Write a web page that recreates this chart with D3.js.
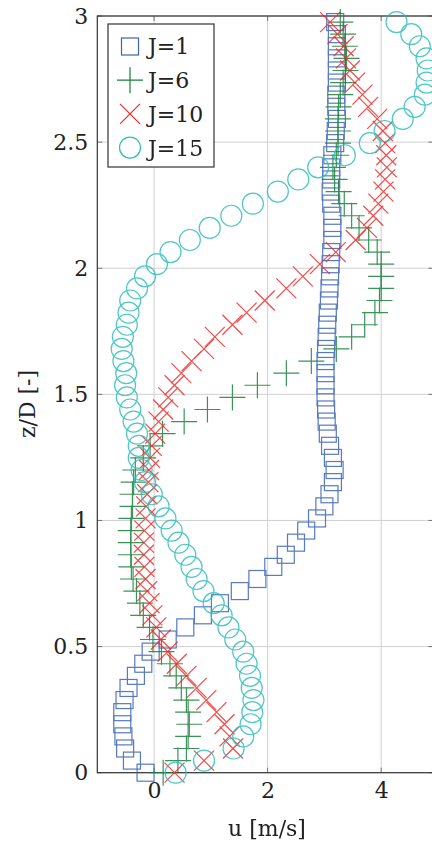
<!DOCTYPE html>
<html><head><meta charset="utf-8">
<script src="https://cdn.jsdelivr.net/npm/d3@7"></script>
<style>html,body{margin:0;padding:0;background:#fff;overflow:hidden}</style>
</head><body>
<svg id="c" width="432" height="841"></svg>
<script>
const zValues = [0,0.048,0.096,0.144,0.192,0.24,0.288,0.336,0.384,0.432,0.48,0.528,0.576,0.624,0.672,0.72,0.768,0.816,0.864,0.912,0.96,1.008,1.056,1.104,1.152,1.2,1.248,1.296,1.344,1.392,1.44,1.488,1.536,1.584,1.632,1.68,1.728,1.776,1.824,1.872,1.92,1.968,2.016,2.064,2.112,2.16,2.208,2.256,2.304,2.352,2.4,2.448,2.496,2.544,2.592,2.64,2.688,2.736,2.784,2.832,2.88,2.928,2.976];
const uJ1 = [-0.15,-0.39,-0.51,-0.54,-0.56,-0.56,-0.52,-0.45,-0.32,-0.19,-0.06,0.24,0.55,0.86,1.16,1.51,1.82,2.10,2.32,2.50,2.68,2.87,3.00,3.09,3.15,3.18,3.15,3.10,3.06,3.04,3.03,3.02,3.02,3.02,3.02,3.03,3.04,3.05,3.06,3.08,3.09,3.10,3.11,3.12,3.14,3.14,3.14,3.12,3.11,3.12,3.12,3.14,3.19,3.20,3.22,3.21,3.21,3.22,3.22,3.22,3.22,3.22,3.19];
const uJ6 = [0.16,0.42,0.57,0.60,0.62,0.60,0.57,0.48,0.39,0.28,0.13,-0.02,-0.08,-0.19,-0.25,-0.31,-0.37,-0.40,-0.41,-0.41,-0.41,-0.40,-0.38,-0.38,-0.36,-0.33,-0.19,-0.07,0.15,0.53,0.94,1.38,1.82,2.33,2.77,3.21,3.48,3.71,3.89,3.97,4.00,4.00,4.00,3.93,3.78,3.61,3.48,3.35,3.25,3.18,3.15,3.21,3.24,3.24,3.24,3.25,3.28,3.33,3.37,3.39,3.36,3.33,3.28];
const uJ10 = [0.36,0.88,1.39,1.33,1.24,1.10,0.92,0.75,0.57,0.40,0.24,0.12,0.04,-0.03,-0.08,-0.12,-0.15,-0.17,-0.18,-0.18,-0.17,-0.15,-0.14,-0.12,-0.10,-0.09,-0.07,-0.04,0.02,0.08,0.16,0.25,0.36,0.48,0.66,0.88,1.07,1.38,1.63,1.95,2.33,2.62,2.92,3.20,3.55,3.75,3.86,3.95,4.04,4.07,4.10,4.09,4.07,4.03,3.93,3.77,3.67,3.54,3.45,3.38,3.34,3.23,3.10];
const uJ15 = [0.38,0.88,1.40,1.57,1.70,1.73,1.75,1.72,1.69,1.63,1.57,1.43,1.31,1.19,1.05,0.87,0.75,0.66,0.55,0.43,0.31,0.20,0.08,-0.04,-0.16,-0.22,-0.27,-0.27,-0.30,-0.36,-0.42,-0.48,-0.51,-0.49,-0.54,-0.57,-0.55,-0.48,-0.45,-0.42,-0.30,-0.16,0.05,0.29,0.63,0.98,1.36,1.74,2.18,2.54,2.89,3.36,3.80,4.06,4.38,4.59,4.77,4.80,4.82,4.80,4.68,4.53,4.27];
const seriesNames = ["J=1","J=6","J=10","J=15"];
const xTickValues = [0,2,4];
const yTickValues = [0,0.5,1,1.5,2,2.5,3];
const xDomain = [-1, 4.92];
const yDomain = [0, 3];

const series = [
  {name: seriesNames[0], u: uJ1, marker: "square", color: "#3b63b6"},
  {name: seriesNames[1], u: uJ6, marker: "plus", color: "#17803a"},
  {name: seriesNames[2], u: uJ10, marker: "cross", color: "#f02828"},
  {name: seriesNames[3], u: uJ15, marker: "circle", color: "#2ebdbd"}
];

const svg = d3.select("#c");
const L = 97.3, T = 16, B = 772.7, R = 433.4;
const x = d3.scaleLinear().domain(xDomain).range([L, R]);
const y = d3.scaleLinear().domain(yDomain).range([B, T]);
const font = "'DejaVu Serif', serif";

// grid
const g = svg.append("g");
g.selectAll(".gx").data(xTickValues).join("line")
  .attr("x1", d => x(d)).attr("x2", d => x(d)).attr("y1", T).attr("y2", B)
  .attr("stroke", "#d0d0d0").attr("stroke-width", 1);
g.selectAll(".gy").data(yTickValues).join("line")
  .attr("x1", L).attr("x2", R).attr("y1", d => y(d)).attr("y2", d => y(d))
  .attr("stroke", "#d0d0d0").attr("stroke-width", 1);

// axes via d3
const xAxis = d3.axisBottom(x).tickValues(xTickValues).tickSize(0).tickPadding(8).tickFormat(d3.format("d"));
const yAxis = d3.axisLeft(y).tickValues(yTickValues).tickSize(0).tickPadding(9).tickFormat(d => String(d));
const gx = svg.append("g").attr("transform", `translate(0,${B})`).call(xAxis);
const gy = svg.append("g").attr("transform", `translate(${L},0)`).call(yAxis);
[gx, gy].forEach(a => {
  a.select(".domain").remove();
  a.selectAll("text").attr("font-family", font).attr("font-size", 22).attr("fill", "#222");
});
gx.selectAll("text").attr("dy", "0.8em");

// inner ticks
const tk = 5;
svg.append("g").selectAll("line").data(xTickValues).join("line")
  .attr("x1", d => x(d)).attr("x2", d => x(d)).attr("y1", B).attr("y2", B - tk)
  .attr("stroke", "#777");
svg.append("g").selectAll("line").data(xTickValues).join("line")
  .attr("x1", d => x(d)).attr("x2", d => x(d)).attr("y1", T).attr("y2", T + tk)
  .attr("stroke", "#777");
svg.append("g").selectAll("line").data(yTickValues).join("line")
  .attr("x1", L).attr("x2", L + tk).attr("y1", d => y(d)).attr("y2", d => y(d))
  .attr("stroke", "#777");
svg.append("g").selectAll("line").data(yTickValues).join("line")
  .attr("x1", R).attr("x2", R - tk).attr("y1", d => y(d)).attr("y2", d => y(d))
  .attr("stroke", "#777");

// frame
svg.append("rect").attr("x", L).attr("y", T).attr("width", R - L).attr("height", B - T)
  .attr("fill", "none").attr("stroke", "#333").attr("stroke-width", 1.2);

// markers
function drawMarker(sel, type, color) {
  if (type === "square") {
    sel.append("rect").attr("x", -8.5).attr("y", -8.5).attr("width", 17).attr("height", 17)
      .attr("fill", "none").attr("stroke", color).attr("stroke-width", 1.2);
  } else if (type === "plus") {
    sel.append("path").attr("d", "M-13,0H13M0,-13V13")
      .attr("fill", "none").attr("stroke", color).attr("stroke-width", 1.2);
  } else if (type === "cross") {
    sel.append("path").attr("d", "M-10,-10L10,10M-10,10L10,-10")
      .attr("fill", "none").attr("stroke", color).attr("stroke-width", 1.2);
  } else {
    sel.append("circle").attr("r", 10.5)
      .attr("fill", "none").attr("stroke", color).attr("stroke-width", 1.2);
  }
}

series.forEach(s => {
  const pts = s.u.map((u, i) => ({u, z: zValues[i]}));
  const grp = svg.append("g").attr("opacity", 0.85);
  grp.selectAll("g").data(pts).join("g")
    .attr("transform", d => `translate(${x(d.u)},${y(d.z)})`)
    .each(function() { drawMarker(d3.select(this), s.marker, s.color); });
});

// legend
const lg = svg.append("g");
lg.append("rect").attr("x", 108).attr("y", 24).attr("width", 106).attr("height", 143)
  .attr("fill", "#fff").attr("stroke", "#333").attr("stroke-width", 1.2);
series.forEach((s, i) => {
  const cy = 46.5 + i * 33.7;
  const m = lg.append("g").attr("transform", `translate(130,${cy})`);
  drawMarker(m, s.marker, s.color);
  lg.append("text").attr("x", 148).attr("y", cy).attr("dy", "0.36em")
    .attr("font-family", font).attr("font-size", 22).attr("fill", "#222").text(s.name);
});

// axis labels
svg.append("text").attr("x", 267).attr("y", 836).attr("text-anchor", "middle")
  .attr("font-family", font).attr("font-size", 22).attr("fill", "#222").text("u [m/s]");
svg.append("text").attr("transform", "translate(35,404) rotate(-90)").attr("text-anchor", "middle")
  .attr("font-family", font).attr("font-size", 22).attr("fill", "#222").text("z/D [-]");
</script>
</body></html>
